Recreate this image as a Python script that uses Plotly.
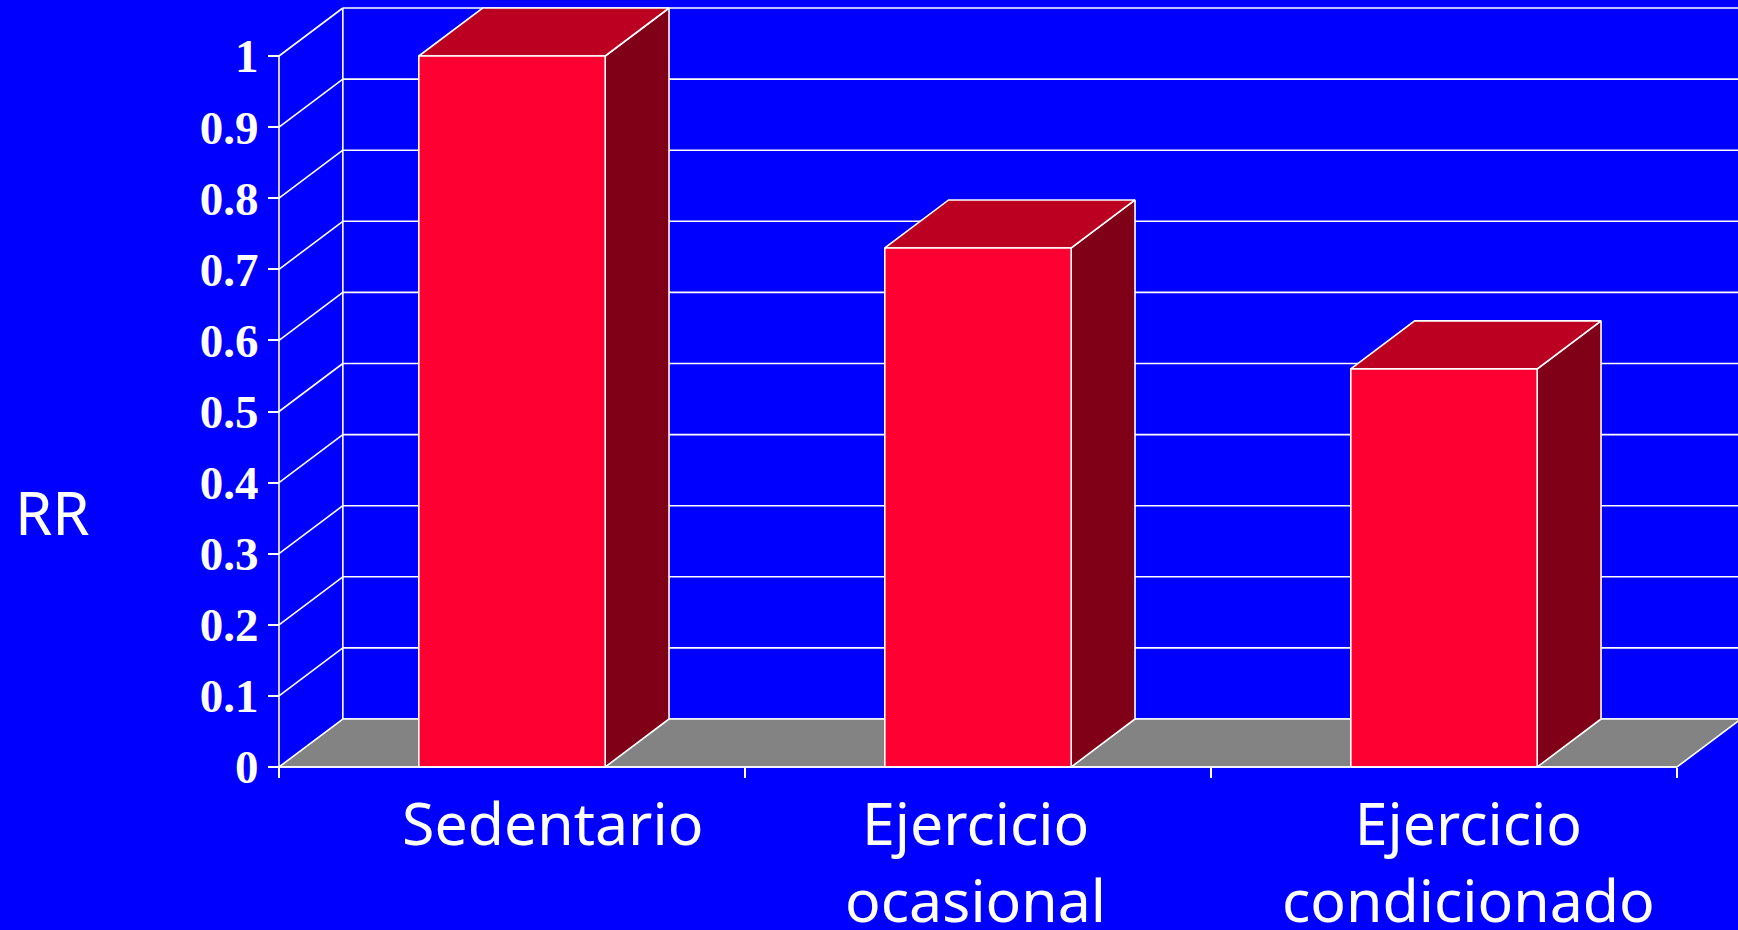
import plotly.graph_objects as go

# ---- data ----
categories = ["Sedentario", "Ejercicio<br>ocasional", "Ejercicio<br>condicionado"]
rr_values = [1.0, 0.73, 0.56]
tick_values = [0, 0.1, 0.2, 0.3, 0.4, 0.5, 0.6, 0.7, 0.8, 0.9, 1.0]
tick_labels = ["0", "0.1", "0.2", "0.3", "0.4", "0.5", "0.6", "0.7", "0.8", "0.9", "1"]

# ---- styling ----
W, H = 1738, 930
BG = "#0000FF"
FRONT = "#FF0033"
TOP = "#BB0022"
SIDE = "#800018"
FLOOR = "#838383"
EDGE = "white"
LW = 1.6

# pseudo-3D depth expressed in axis units
DEPTH_X = 0.137
DEPTH_Y = 0.0675
BAR_W = 0.4
label_shift_px = [40, -3, 24]

# axis ranges so the plotting frame fills the whole page
X_RANGE = [-279 / 466, -279 / 466 + W / 466]
Y_RANGE = [-(H - 767) / 711, 1 + 56 / 711]

n = len(categories)
fig = go.Figure()


def add_poly(xs, ys, fill=None, color=EDGE, width=LW):
    fig.add_trace(go.Scatter(
        x=xs, y=ys, mode="lines",
        fill="toself" if fill else None,
        fillcolor=fill,
        line=dict(color=color, width=width),
        hoverinfo="skip", showlegend=False,
    ))


# back wall gridlines
for v in tick_values:
    add_poly([DEPTH_X, n + DEPTH_X + 0.2], [v + DEPTH_Y, v + DEPTH_Y])

# side wall: back edge and diagonal gridlines
add_poly([DEPTH_X, DEPTH_X], [DEPTH_Y, tick_values[-1] + DEPTH_Y])
for v in tick_values[1:]:
    add_poly([0, DEPTH_X], [v, v + DEPTH_Y])

# floor
add_poly([0, n, n + DEPTH_X, DEPTH_X, 0],
         [0, 0, DEPTH_Y, DEPTH_Y, 0], fill=FLOOR)

# front value axis line
add_poly([0, 0], [0, tick_values[-1]])

# bars: side, top, front faces
for i, v in enumerate(rr_values):
    left = i + 0.5 - BAR_W / 2
    right = i + 0.5 + BAR_W / 2
    add_poly([right, right + DEPTH_X, right + DEPTH_X, right, right],
             [0, DEPTH_Y, v + DEPTH_Y, v, 0], fill=SIDE)
    add_poly([left, right, right + DEPTH_X, left + DEPTH_X, left],
             [v, v, v + DEPTH_Y, v + DEPTH_Y, v], fill=TOP)
    add_poly([left, right, right, left, left],
             [0, 0, v, v, 0], fill=FRONT)

# front category axis line
add_poly([0, n], [0, 0])

# category labels
for i, name in enumerate(categories):
    fig.add_annotation(
        x=i + 0.5, xref="x", y=1 - 780 / H, yref="paper",
        xanchor="center", yanchor="top", xshift=label_shift_px[i],
        text=name, showarrow=False, align="center",
        font=dict(family="Noto Sans", size=59, color="white"),
    )

# axis title
fig.add_annotation(
    x=13 / W, xref="paper", y=1 - 512 / H, yref="paper",
    xanchor="left", yanchor="middle", text="RR", showarrow=False,
    font=dict(family="Noto Sans", size=60, color="white"),
)

fig.update_layout(
    width=W, height=H,
    margin=dict(l=0, r=0, t=0, b=0),
    paper_bgcolor=BG, plot_bgcolor=BG,
    showlegend=False,
    xaxis=dict(
        range=X_RANGE, domain=[0, 1], anchor="free", position=(H - 767) / H,
        showgrid=False, zeroline=False, showline=False,
        tickmode="array", tickvals=list(range(n + 1)),
        ticks="outside", ticklen=10, tickwidth=LW, tickcolor="white",
        showticklabels=False, fixedrange=True,
    ),
    yaxis=dict(
        range=Y_RANGE, domain=[0, 1], anchor="free", position=279 / W,
        showgrid=False, zeroline=False, showline=False,
        tickmode="array", tickvals=tick_values, ticktext=tick_labels,
        ticks="outside", ticklen=11, tickwidth=LW, tickcolor="white",
        tickfont=dict(family="Liberation Serif", size=47, color="white", weight="bold"),
        fixedrange=True,
    ),
)

fig.write_html("out.html")
